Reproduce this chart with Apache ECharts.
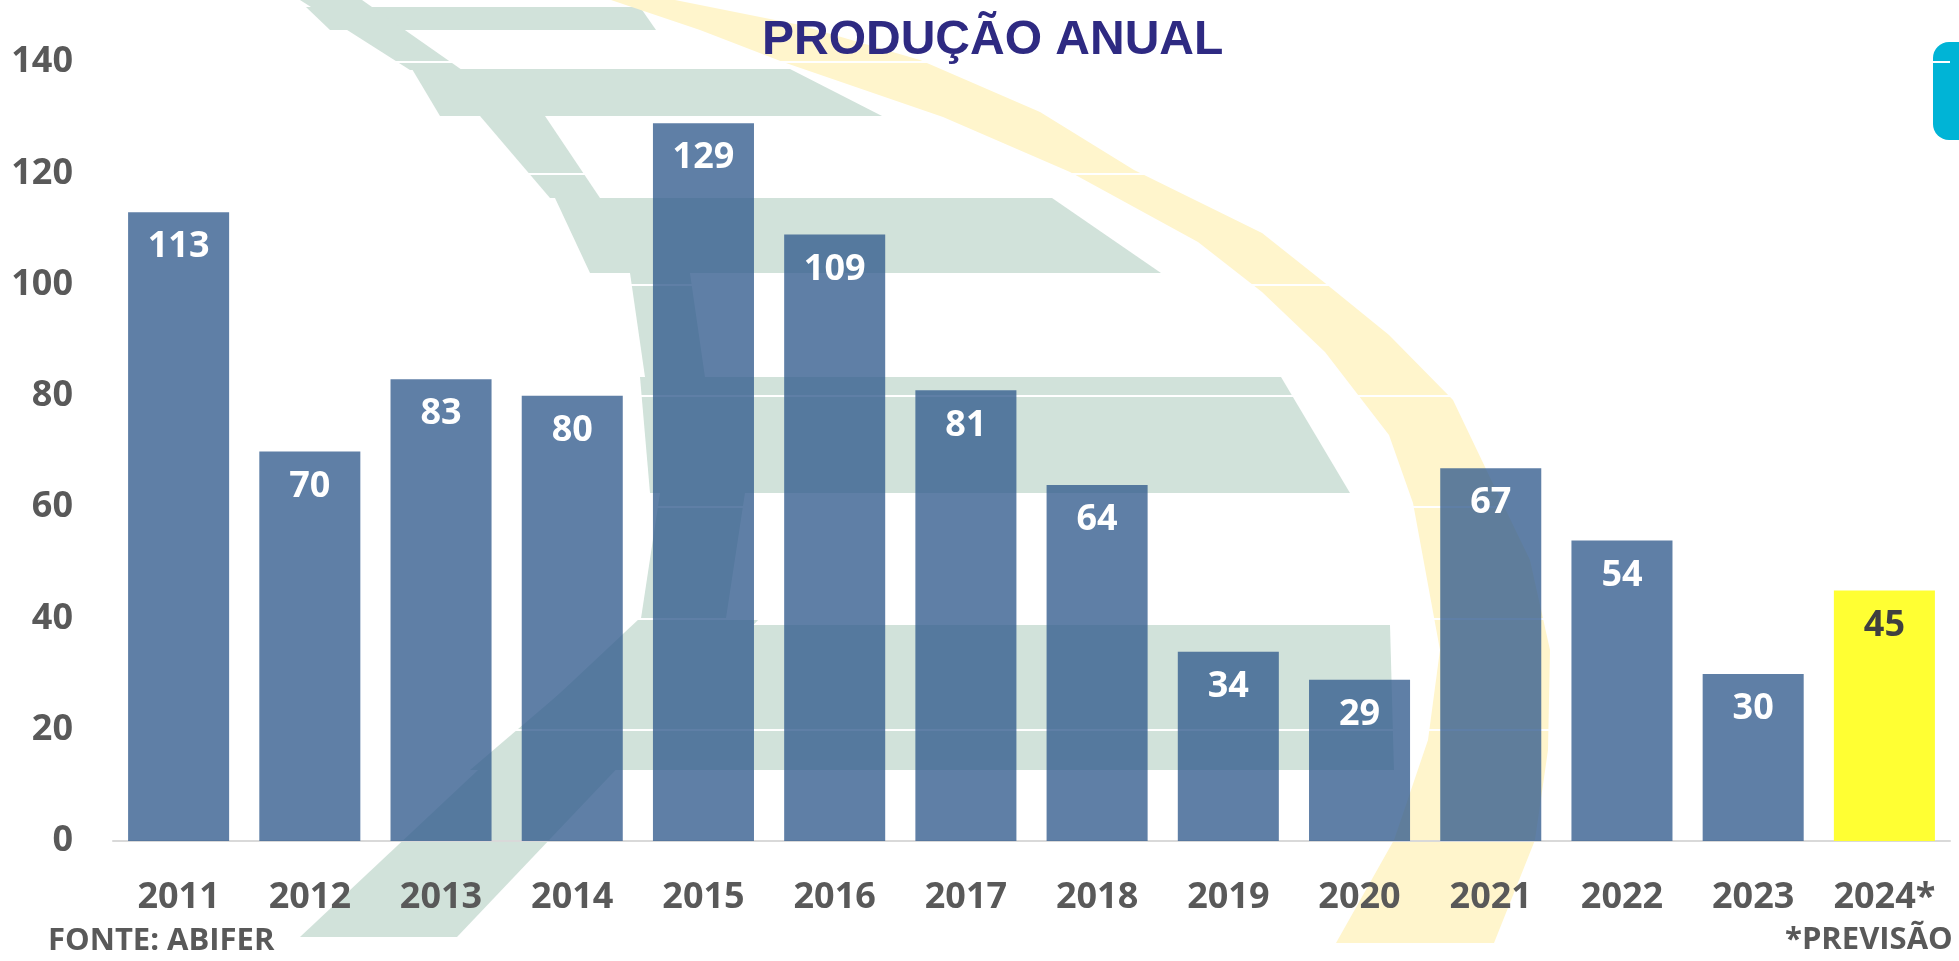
<!DOCTYPE html>
<html>
<head>
<meta charset="utf-8">
<title>Produção anual</title>
<script src="https://cdn.jsdelivr.net/npm/echarts@6/dist/echarts.min.js"></script>
<style>
  html, body { margin: 0; padding: 0; background: #fff; }
  #chart { width: 1959px; height: 961px; }
</style>
</head>
<body>
<div id="chart"></div>
<script>
// dados
const years = ['2011', '2012', '2013', '2014', '2015', '2016', '2017', '2018', '2019', '2020', '2021', '2022', '2023', '2024*'];
const production = [113, 70, 83, 80, 129, 109, 81, 64, 34, 29, 67, 54, 30, 45];
const forecastYear = '2024*';
const yTicks = [0, 20, 40, 60, 80, 100, 120, 140];

const labelFont = 'Open Sans';
const grey = '#595959';

// marca d'água (logo ao fundo), só decoração
const green = '#d1e2da';
const yellow = '#fff5cc';
const watermark = [
  [[306, 7], [640, 7], [656, 30], [330, 30]],
  [[300, 0], [362, 0], [462, 70], [410, 70]],
  [[412, 69], [790, 69], [882, 116], [440, 116]],
  [[480, 116], [545, 116], [600, 198], [550, 198]],
  [[555, 198], [1052, 198], [1161, 273], [590, 273]],
  [[630, 273], [690, 273], [705, 377], [645, 377]],
  [[640, 377], [1281, 377], [1350, 493], [650, 493]],
  [[660, 493], [745, 493], [725, 625], [640, 625]],
  [[640, 625], [1390, 625], [1394, 770], [470, 770]],
  [[640, 618], [760, 618], [457, 937], [300, 937]]
].map(pts => ({
  type: 'polygon',
  z: -10,
  silent: true,
  shape: { points: pts },
  style: { fill: green }
}));

const arcOuter = [[675, 0], [800, 25], [920, 60], [1040, 112], [1134, 170], [1262, 233], [1325, 283], [1389, 335], [1453, 400], [1485, 467], [1530, 560], [1550, 650], [1548, 750], [1535, 840], [1494, 943]];
const arcInner = [[1336, 943], [1394, 840], [1428, 740], [1440, 650], [1413, 503], [1389, 435], [1325, 352], [1262, 292], [1198, 242], [1070, 172], [943, 117], [783, 62], [700, 30], [611, 0]];

const chart = echarts.init(document.getElementById('chart'));

const option = {
  backgroundColor: '#fff',
  title: {
    text: 'PRODUÇÃO ANUAL',
    left: 757,
    top: 12,
    textStyle: {
      fontFamily: 'Liberation Sans',
      fontSize: 48,
      fontWeight: 'bold',
      color: '#2e2a82'
    }
  },
  graphic: [
    ...watermark,
    {
      type: 'polygon',
      z: -10,
      silent: true,
      shape: { points: arcOuter.concat(arcInner) },
      style: { fill: yellow }
    },
    {
      type: 'rect',
      z: -10,
      silent: true,
      shape: { x: 1933, y: 42, width: 50, height: 98, r: 16 },
      style: { fill: '#00b4d6' }
    },
    {
      type: 'text',
      left: 48,
      top: 926,
      style: { text: 'FONTE: ABIFER', font: 'bold 31px "Open Sans"', fill: grey }
    },
    {
      type: 'text',
      left: 1785,
      top: 925,
      style: { text: '*PREVISÃO', font: 'bold 31px "Open Sans"', fill: grey }
    }
  ],
  grid: {
    left: 113,
    right: 9,
    top: 62,
    bottom: 120
  },
  xAxis: {
    type: 'category',
    data: years,
    axisTick: { show: false },
    axisLine: { lineStyle: { color: '#d9d9d9', width: 2 } },
    axisLabel: {
      interval: 0,
      margin: 39,
      fontFamily: labelFont,
      fontWeight: 'bold',
      fontSize: 36,
      color: grey
    }
  },
  yAxis: {
    type: 'value',
    min: yTicks[0],
    max: yTicks[yTicks.length - 1],
    interval: 20,
    axisLine: { show: false },
    axisTick: { show: false },
    splitLine: { lineStyle: { color: '#ffffff', width: 2 } },
    axisLabel: {
      margin: 40,
      fontFamily: labelFont,
      fontWeight: 'bold',
      fontSize: 36,
      color: grey
    }
  },
  series: [{
    type: 'bar',
    barCategoryGap: '23%',
    data: production.map((v, i) => {
      if (years[i] !== forecastYear) return v;
      return {
        value: v,
        itemStyle: { color: '#ffff33' },
        label: { color: '#404040' }
      };
    }),
    itemStyle: { color: 'rgba(52,93,142,0.79)' },
    label: {
      show: true,
      position: 'insideTop',
      distance: 17,
      fontFamily: labelFont,
      fontWeight: 'bold',
      fontSize: 36,
      color: '#fff'
    }
  }]
};

chart.setOption(option);
window.addEventListener('resize', () => chart.resize());
</script>
</body>
</html>
